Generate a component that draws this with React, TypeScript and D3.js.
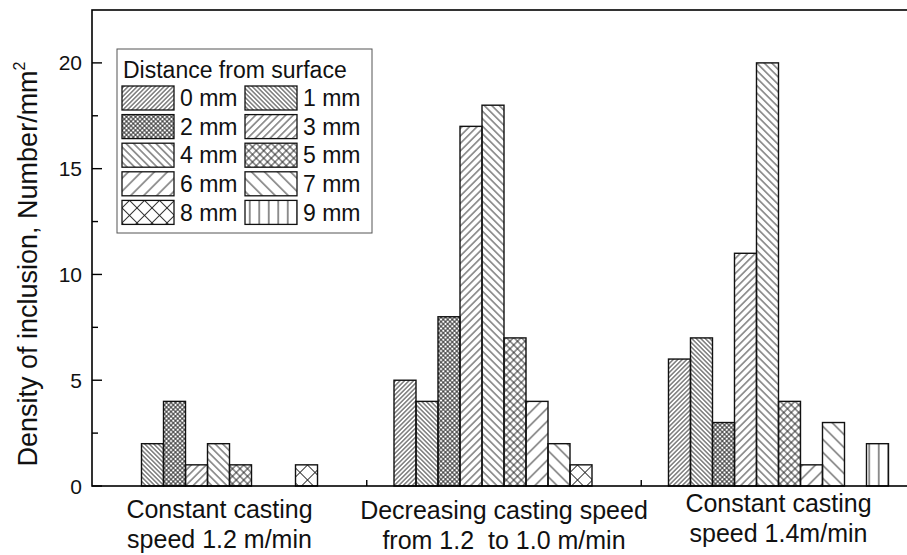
import { useEffect, useRef } from "react";
import * as d3 from "d3";

// casting conditions (x groups)
const groups = ["speed12", "decreasing", "speed14"];
const groupLabels = [
  ["Constant casting", "speed 1.2 m/min"],
  ["Decreasing casting speed", "from 1.2  to 1.0 m/min"],
  ["Constant casting", "speed 1.4m/min"],
];

// distance from surface (series)
const distances = ["0 mm", "1 mm", "2 mm", "3 mm", "4 mm", "5 mm", "6 mm", "7 mm", "8 mm", "9 mm"];

// density of inclusion, Number/mm2
const speed12 = [0, 2, 4, 1, 2, 1, 0, 0, 1, 0];
const decreasing = [5, 4, 8, 17, 18, 7, 4, 2, 1, 0];
const speed14 = [6, 7, 3, 11, 20, 4, 1, 3, 0, 2];

const yMajor = [0, 5, 10, 15, 20];
const yMinor = [2.5, 7.5, 12.5, 17.5];

// hatch style per distance: kind and horizontal spacing in px
const hatch = [
  { kind: "/", gap: 4.5 },
  { kind: "\\", gap: 4.5 },
  { kind: "x", gap: 4.5 },
  { kind: "/", gap: 7.5 },
  { kind: "\\", gap: 7.5 },
  { kind: "x", gap: 7.5 },
  { kind: "/", gap: 13 },
  { kind: "\\", gap: 13 },
  { kind: "x", gap: 15 },
  { kind: "|", gap: 9.5 },
];

const FONT = "'Liberation Sans', Arial, Helvetica, sans-serif";

const App = () => {
  const svgRef = useRef(null);

  useEffect(() => {
    document.body.style.margin = "0";
    const width = 907;
    const height = 555;
    const left = 92;
    const right = 916; // right frame sits just outside the picture
    const top = 10;
    const bottom = 486;

    const svg = d3.select(svgRef.current);
    svg.attr("width", width).attr("height", height);
    svg.selectAll("*").remove();

    const table = [speed12, decreasing, speed14];

    const x0 = d3.scaleBand().domain(groups).range([left, right]).paddingInner(0.1985).paddingOuter(0.1002);
    const x1 = d3.scaleBand().domain(distances).range([0, x0.bandwidth()]);
    const y = d3.scaleLinear().domain([0, 22.5]).range([bottom, top]);

    // hatch patterns
    const defs = svg.append("defs");
    hatch.forEach((h, i) => {
      const pat = defs.append("pattern").attr("id", `hatch${i}`).attr("patternUnits", "userSpaceOnUse");
      if (h.kind === "|") {
        pat.attr("width", h.gap).attr("height", h.gap);
        pat.append("line").attr("x1", h.gap / 2).attr("x2", h.gap / 2).attr("y1", 0).attr("y2", h.gap)
          .attr("stroke", "#222").attr("stroke-width", 1);
        return;
      }
      const p = h.gap / Math.SQRT2;
      pat.attr("width", p).attr("height", p)
        .attr("patternTransform", `rotate(${h.kind === "\\" ? -45 : 45})`);
      pat.append("line").attr("x1", p / 2).attr("x2", p / 2).attr("y1", 0).attr("y2", p)
        .attr("stroke", "#222").attr("stroke-width", 0.9);
      if (h.kind === "x") {
        pat.append("line").attr("x1", 0).attr("x2", p).attr("y1", p / 2).attr("y2", p / 2)
          .attr("stroke", "#222").attr("stroke-width", 0.9);
      }
    });

    // bars
    const rows = groups.flatMap((g, gi) =>
      distances.map((d, di) => ({ g, d, di, v: table[gi][di] }))
    ).filter((r) => r.v > 0);

    svg.append("g")
      .selectAll("rect")
      .data(rows)
      .enter()
      .append("rect")
      .attr("x", (r) => x0(r.g) + x1(r.d))
      .attr("y", (r) => y(r.v))
      .attr("width", x1.bandwidth())
      .attr("height", (r) => y(0) - y(r.v))
      .attr("fill", (r) => `url(#hatch${r.di})`)
      .attr("stroke", "#111")
      .attr("stroke-width", 1.4);

    // frame
    svg.append("rect")
      .attr("x", left).attr("y", top)
      .attr("width", right - left).attr("height", bottom - top)
      .attr("fill", "none").attr("stroke", "#000").attr("stroke-width", 1.6);

    // y ticks (inward)
    svg.append("g").selectAll("line").data(yMajor).enter().append("line")
      .attr("x1", left).attr("x2", left + 10)
      .attr("y1", (d) => y(d)).attr("y2", (d) => y(d))
      .attr("stroke", "#000").attr("stroke-width", 1.4);
    svg.append("g").selectAll("line").data(yMinor).enter().append("line")
      .attr("x1", left).attr("x2", left + 6)
      .attr("y1", (d) => y(d)).attr("y2", (d) => y(d))
      .attr("stroke", "#000").attr("stroke-width", 1.4);
    svg.append("g").selectAll("text").data(yMajor).enter().append("text")
      .attr("x", left - 10).attr("y", (d) => y(d)).attr("dy", "0.36em")
      .attr("text-anchor", "end").attr("font-family", FONT).attr("font-size", 21)
      .attr("fill", "#111").text((d) => d);

    // x ticks between groups
    const seps = groups.slice(1).map((g, i) => (x0(groups[i]) + x0.bandwidth() + x0(g)) / 2);
    svg.append("g").selectAll("line").data(seps).enter().append("line")
      .attr("x1", (d) => d).attr("x2", (d) => d)
      .attr("y1", bottom).attr("y2", bottom - 6)
      .attr("stroke", "#000").attr("stroke-width", 1.4);

    // group labels
    const labelDx = [-10, 0, 0];
    const labelY = [518, 519, 512];
    groups.forEach((g, gi) => {
      const t = svg.append("text")
        .attr("x", x0(g) + x0.bandwidth() / 2 + labelDx[gi])
        .attr("y", labelY[gi])
        .attr("text-anchor", "middle").attr("font-family", FONT).attr("font-size", 25)
        .attr("fill", "#111").style("white-space", "pre");
      groupLabels[gi].forEach((line, li) => {
        t.append("tspan")
          .attr("x", x0(g) + x0.bandwidth() / 2 + labelDx[gi])
          .attr("dy", li === 0 ? 0 : 30)
          .text(line);
      });
    });

    // y title
    const title = svg.append("text")
      .attr("transform", `translate(37,${(top + bottom) / 2 + 16}) rotate(-90)`)
      .attr("text-anchor", "middle").attr("font-family", FONT).attr("font-size", 27)
      .attr("fill", "#111");
    title.append("tspan").text("Density of inclusion, Number/mm");
    title.append("tspan").attr("dy", -12).attr("font-size", 16).text("2");

    // legend
    const lg = svg.append("g");
    lg.append("rect").attr("x", 117).attr("y", 49).attr("width", 255).attr("height", 184)
      .attr("fill", "#fff").attr("stroke", "#555").attr("stroke-width", 1);
    lg.append("text").attr("x", 123).attr("y", 78)
      .attr("font-family", FONT).attr("font-size", 23).attr("fill", "#111")
      .text("Distance from surface");
    const items = lg.selectAll("g.item").data(distances).enter().append("g")
      .attr("class", "item")
      .attr("transform", (d, i) => `translate(${i % 2 === 0 ? 122 : 245},${86 + Math.floor(i / 2) * 28.6})`);
    items.append("rect").attr("width", 52).attr("height", 24)
      .attr("fill", (d, i) => `url(#hatch${i})`).attr("stroke", "#111").attr("stroke-width", 1.3);
    items.append("text").attr("x", 58).attr("y", 12).attr("dy", "0.36em")
      .attr("font-family", FONT).attr("font-size", 23).attr("fill", "#111")
      .text((d) => d);
  }, []);

  return <svg ref={svgRef} style={{ display: "block" }}></svg>;
};

export default App;
